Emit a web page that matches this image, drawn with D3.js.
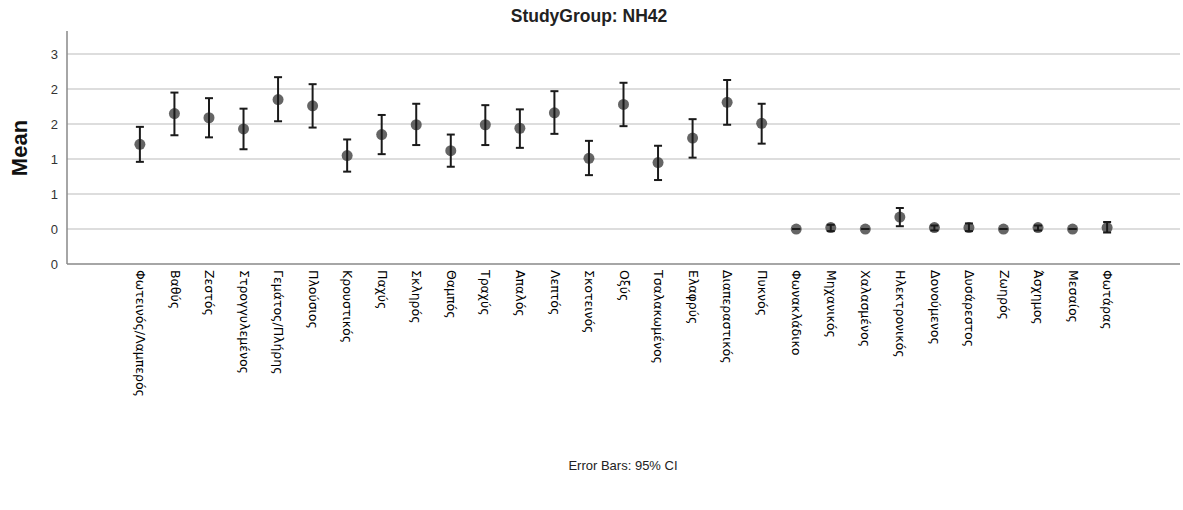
<!DOCTYPE html>
<html>
<head>
<meta charset="utf-8">
<script src="https://cdn.jsdelivr.net/npm/d3@7"></script>
<style>
  body { margin: 0; background: #fff; }
  text { font-family: "Liberation Sans", Arial, sans-serif; }
</style>
</head>
<body>
<div id="chart"></div>
<script>
var categories = ["Φωτεινός/Λαμπερός", "Βαθύς", "Ζεστός", "Στρογγυλεμένος", "Γεμάτος/Πλήρης",
    "Πλούσιος", "Κρουστικός", "Παχύς", "Σκληρός", "Θαμπός", "Τραχύς", "Απαλός", "Λεπτός",
    "Σκοτεινός", "Οξύς", "Τσαλακωμένος", "Ελαφρύς", "Διαπεραστικός", "Πυκνός", "Φωνακλάδικο",
    "Μηχανικός", "Χαλασμένος", "Ηλεκτρονικός", "Δονούμενος", "Δυσάρεστος", "Ζωηρός",
    "Άσχημος", "Μεσαίος", "Φωτάρας"];

var means = [1.71, 2.15, 2.09, 1.93, 2.35, 2.26, 1.55, 1.85, 1.99, 1.62, 1.99, 1.94, 2.16,
    1.51, 2.28, 1.45, 1.80, 2.31, 2.01, 0.50, 0.52, 0.50, 0.67, 0.52, 0.52, 0.50, 0.52, 0.50, 0.52];
var lower = [1.46, 1.84, 1.81, 1.64, 2.04, 1.95, 1.32, 1.57, 1.70, 1.39, 1.70, 1.66, 1.86,
    1.27, 1.97, 1.20, 1.52, 1.99, 1.72, 0.50, 0.47, 0.50, 0.54, 0.48, 0.47, 0.50, 0.48, 0.50, 0.45];
var upper = [1.96, 2.45, 2.37, 2.22, 2.67, 2.57, 1.78, 2.13, 2.29, 1.85, 2.27, 2.21, 2.47,
    1.76, 2.59, 1.69, 2.07, 2.63, 2.29, 0.50, 0.56, 0.50, 0.80, 0.55, 0.58, 0.50, 0.55, 0.50, 0.60];

var yTicks = [0, 0.5, 1, 1.5, 2, 2.5, 3];
var yTickLabels = ["0", "0", "1", "1", "2", "2", "3"];

var W = 1183, H = 510;
var mLeft = 67, mRight = 1180, mTop = 31, mBottom = 264;

var svg = d3.select("#chart")
    .append("svg")
    .attr("width", W)
    .attr("height", H);

var x = d3.scalePoint()
    .domain(categories)
    .range([mLeft, mRight])
    .padding(2.11);

var y = d3.scaleLinear()
    .domain([0, 3.33])
    .range([mBottom, mTop]);

// gridlines
svg.selectAll(".grid")
    .data(yTicks.slice(1))
    .enter()
    .append("line")
    .attr("x1", mLeft)
    .attr("x2", mRight)
    .attr("y1", function (d) { return y(d); })
    .attr("y2", function (d) { return y(d); })
    .style("stroke", "#d2d2d2")
    .style("stroke-width", 1.5);

// y axis
var yAxis = d3.axisLeft(y)
    .tickValues(yTicks)
    .tickSize(0)
    .tickPadding(9)
    .tickFormat(function (d, i) { return yTickLabels[i]; });

var gy = svg.append("g")
    .attr("transform", "translate(" + mLeft + ",0)")
    .call(yAxis);
gy.select(".domain").remove();
gy.selectAll("text")
    .style("font-size", "13px")
    .style("fill", "#333")
    .style("font-family", "'Liberation Sans', Arial, sans-serif");

// x axis
var xAxis = d3.axisBottom(x).tickSize(0).tickPadding(0);
var gx = svg.append("g")
    .attr("transform", "translate(0," + mBottom + ")")
    .call(xAxis);
gx.select(".domain").remove();
gx.selectAll("text")
    .attr("transform", "rotate(90)")
    .attr("x", 6)
    .attr("y", 0)
    .attr("dy", "0.35em")
    .style("text-anchor", "start")
    .style("font-size", "12.5px")
    .style("fill", "#000")
    .style("font-family", "'DejaVu Sans', Verdana, sans-serif");

// axis lines
svg.append("line")
    .attr("x1", mLeft).attr("x2", mLeft)
    .attr("y1", mTop).attr("y2", mBottom)
    .style("stroke", "#888").style("stroke-width", 1.5);
svg.append("line")
    .attr("x1", mLeft).attr("x2", mRight)
    .attr("y1", mBottom).attr("y2", mBottom)
    .style("stroke", "#888").style("stroke-width", 1.5);

var rows = categories.map(function (c, i) {
    return { name: c, mean: means[i], lo: lower[i], hi: upper[i] };
});

// points
svg.selectAll(".pt")
    .data(rows)
    .enter()
    .append("circle")
    .attr("cx", function (d) { return x(d.name); })
    .attr("cy", function (d) { return y(d.mean); })
    .attr("r", 5.5)
    .style("fill", "#4a4a4a")
    .style("opacity", 0.85);

// error bars
var eb = svg.selectAll(".eb")
    .data(rows)
    .enter()
    .append("g")
    .style("stroke", "#1a1a1a")
    .style("stroke-width", 2);

eb.append("line")
    .attr("x1", function (d) { return x(d.name); })
    .attr("x2", function (d) { return x(d.name); })
    .attr("y1", function (d) { return y(d.lo); })
    .attr("y2", function (d) { return y(d.hi); });
eb.append("line")
    .attr("x1", function (d) { return x(d.name) - 4; })
    .attr("x2", function (d) { return x(d.name) + 4; })
    .attr("y1", function (d) { return y(d.lo); })
    .attr("y2", function (d) { return y(d.lo); });
eb.append("line")
    .attr("x1", function (d) { return x(d.name) - 4; })
    .attr("x2", function (d) { return x(d.name) + 4; })
    .attr("y1", function (d) { return y(d.hi); })
    .attr("y2", function (d) { return y(d.hi); });

// title
svg.append("text")
    .attr("x", 589)
    .attr("y", 22)
    .attr("text-anchor", "middle")
    .style("font-weight", "bold")
    .style("font-size", "17.5px")
    .style("fill", "#222")
    .text("StudyGroup: NH42");

// y label
svg.append("text")
    .attr("transform", "translate(27,148) rotate(-90)")
    .attr("text-anchor", "middle")
    .style("font-weight", "bold")
    .style("font-size", "22px")
    .style("fill", "#111")
    .text("Mean");

// footnote
svg.append("text")
    .attr("x", 623)
    .attr("y", 470)
    .attr("text-anchor", "middle")
    .style("font-size", "13px")
    .style("fill", "#222")
    .text("Error Bars: 95% CI");
</script>
</body>
</html>
